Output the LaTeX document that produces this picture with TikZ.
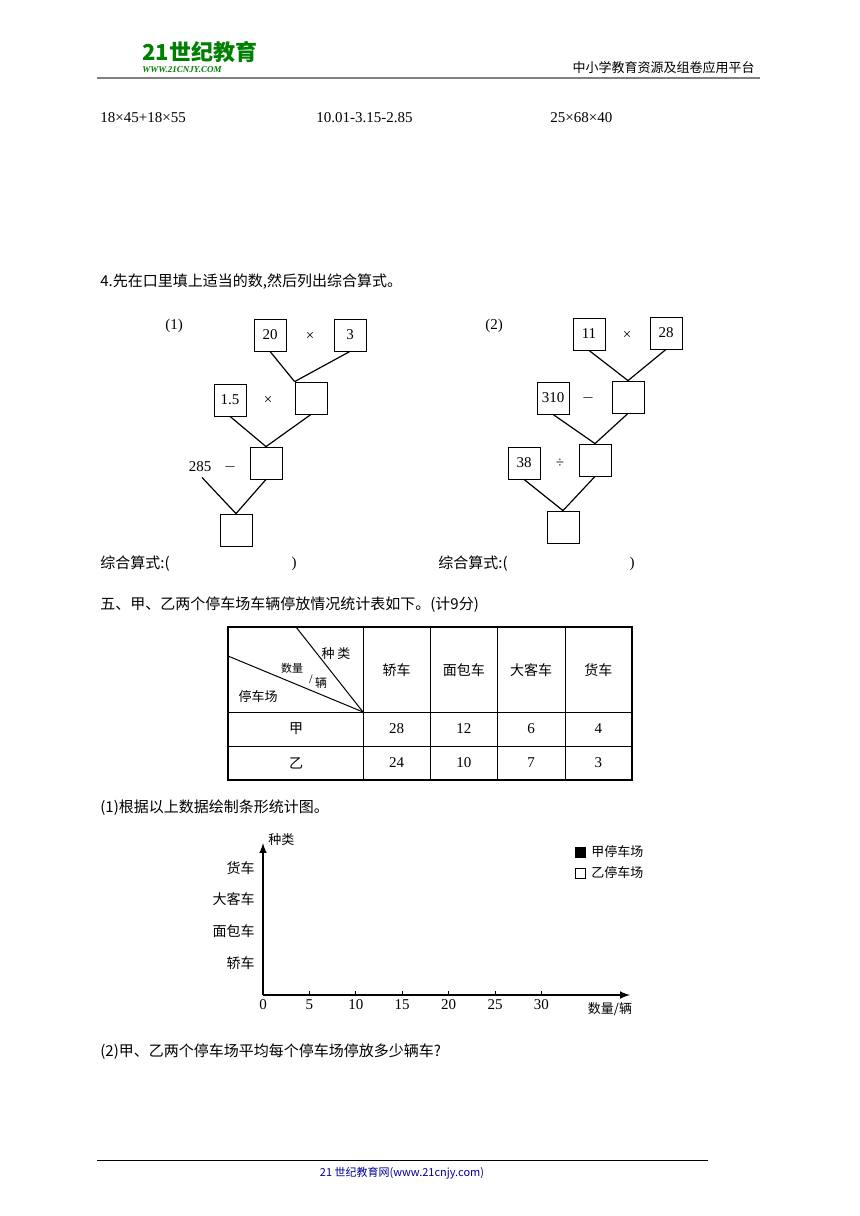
\documentclass[tikz,border=0pt]{standalone}
\usepackage{fontspec}
\setmainfont{Liberation Serif}
\newfontfamily\cjk{Noto Sans CJK SC}
\usetikzlibrary{calc}
\usetikzlibrary{positioning}
\tikzstyle{numbox} = [draw, minimum size=16pt, inner sep=0pt, font=\fontsize{7.5}{8}\selectfont]
\tikzstyle{txt} = [anchor=west, inner sep=0pt, font=\fontsize{7.5}{9}\selectfont]
\tikzstyle{cell} = [inner sep=0pt, font=\fontsize{7.5}{9}\selectfont]
\tikzstyle{treeline} = [line width=0.6pt]
\begin{document}
\begin{tikzpicture}[x=0.5pt, y=-0.5pt]
    \useasboundingbox (0,0) rectangle (860,1216);
    % header
    \node[inner sep=0pt, anchor=west, text=green!50!black, font=\cjk\fontsize{11}{11}\selectfont\bfseries] (logo) at (142,52) {21世纪教育};
    \node[inner sep=0pt, anchor=west, text=green!50!black, font=\fontsize{4.5}{5}\selectfont\bfseries\itshape] (logourl) at (142,70) {WWW.21CNJY.COM};
    \node[inner sep=0pt, anchor=east, font=\cjk\fontsize{6.5}{7}\selectfont] (platform) at (755,68) {中小学教育资源及组卷应用平台};
    \draw[gray, line width=1.2pt] (97,78) -- (760,78);

    \node[txt] (calcA) at (100,118) {18×45+18×55};
    \node[txt] (calcB) at (316,118) {10.01-3.15-2.85};
    \node[txt] (calcC) at (550,118) {25×68×40};
    \node[txt, font=\cjk\fontsize{7.5}{9}\selectfont] (task4) at (100,282) {4.先在口里填上适当的数,然后列出综合算式。};

    % tree (1)
    \node[cell] (t1_label) at (174,326) {(1)};
    \node[numbox] (t1_twenty) at (270,335) {20};
    \node[cell] at (310,336) {×};
    \node[numbox] (t1_three) at (350,335) {3};
    \node[numbox] (t1_onefive) at (230,400) {1.5};
    \node[cell] at (268,400) {×};
    \node[numbox] (t1_prod) at (311,398) {};
    \node[cell] (t1_285) at (200,467) {285};
    \node[cell] at (230,467) {$-$};
    \node[numbox] (t1_mid) at (266,463) {};
    \node[numbox] (t1_res) at (236,530) {};
    \draw[treeline] (t1_twenty.south) -- (t1_prod.north west);
    \draw[treeline] (t1_three.south) -- (t1_prod.north west);
    \draw[treeline] (t1_onefive.south) -- (t1_mid.north);
    \draw[treeline] (t1_prod.south) -- (t1_mid.north);
    \draw[treeline] ($(t1_285.south)+(2,5)$) -- (t1_res.north);
    \draw[treeline] (t1_mid.south) -- (t1_res.north);

    % tree (2)
    \node[cell] (t2_label) at (494,326) {(2)};
    \node[numbox] (t2_eleven) at (589,334) {11};
    \node[cell] at (627,335) {×};
    \node[numbox] (t2_28) at (666,333) {28};
    \node[numbox] (t2_310) at (553,398) {310};
    \node[cell] at (588,398) {$-$};
    \node[numbox] (t2_prod) at (628,397) {};
    \node[numbox] (t2_38) at (524,463) {38};
    \node[cell] at (560,463) {÷};
    \node[numbox] (t2_mid) at (595,460) {};
    \node[numbox] (t2_res) at (563,527) {};
    \draw[treeline] (t2_eleven.south) -- (t2_prod.north);
    \draw[treeline] (t2_28.south) -- (t2_prod.north);
    \draw[treeline] (t2_310.south) -- (t2_mid.north);
    \draw[treeline] (t2_prod.south) -- (t2_mid.north);
    \draw[treeline] (t2_38.south) -- (t2_res.north);
    \draw[treeline] (t2_mid.south) -- (t2_res.north);

    \node[txt, font=\cjk\fontsize{7.5}{9}\selectfont] (formA) at (100,564) {综合算式:(};
    \node[cell] at (294,564) {)};
    \node[txt, font=\cjk\fontsize{7.5}{9}\selectfont] (formB) at (438,564) {综合算式:(};
    \node[cell] at (632,564) {)};

    \node[txt, font=\cjk\fontsize{7.5}{9}\selectfont] (task5) at (100,605) {五、甲、乙两个停车场车辆停放情况统计表如下。(计9分)};

    % table
    \draw[line width=1pt] (228,627) rectangle (632,780);
    \draw[line width=0.5pt] (228,712) -- (632,712);
    \draw[line width=0.5pt] (228,746) -- (632,746);
    \foreach \x in {363,430,497,565}
        \draw[line width=0.5pt] (\x,627) -- (\x,780);
    \draw[line width=0.5pt] (296,627) -- (363,712);
    \draw[line width=0.5pt] (228,656) -- (363,712);
    \node[cell, font=\cjk\fontsize{6.5}{7}\selectfont] at (336,654) {种\ 类};
    \node[cell, font=\cjk\fontsize{5.5}{6}\selectfont] at (292,668) {数量};
    \node[cell, font=\fontsize{6.5}{7}\selectfont] at (311,679) {/};
    \node[cell, font=\cjk\fontsize{6}{6}\selectfont] at (321,683) {辆};
    \node[cell, font=\cjk\fontsize{6.5}{7}\selectfont] at (258,697) {停车场};
    \foreach \name [count=\i] in {轿车,面包车,大客车,货车}
        \node[cell, font=\cjk\fontsize{7}{8}\selectfont] at ({329.2+\i*67.3},670) {\name};
    \node[cell, font=\cjk\fontsize{7}{8}\selectfont] at (296,729) {甲};
    \node[cell, font=\cjk\fontsize{7}{8}\selectfont] at (296,763) {乙};
    \foreach \v [count=\i] in {28,12,6,4}
        \node[cell] at ({329.2+\i*67.3},729) {\v};
    \foreach \v [count=\i] in {24,10,7,3}
        \node[cell] at ({329.2+\i*67.3},763) {\v};

    \node[txt, font=\cjk\fontsize{7.5}{9}\selectfont] (task51) at (100,808) {(1)根据以上数据绘制条形统计图。};

    % bar chart axes
    \coordinate (origin) at (263,995);
    \coordinate (ytop) at (263,843);
    \coordinate (xend) at (630,995);
    \draw[line width=0.7pt, -latex] (origin) -- (ytop);
    \draw[line width=0.7pt, -latex] (origin) -- (xend);
    \node[cell, anchor=west, font=\cjk\fontsize{6.5}{7}\selectfont] (ylabel) at (268,840) {种类};
    \node[cell, font=\cjk\fontsize{6.5}{7}\selectfont] (xlabel) at (610,1009) {数量/辆};
    \foreach \v in {0,5,...,30} {
        \draw (263+\v*46.4/5,995) -- (263+\v*46.4/5,991);
        \node[cell] at (263+\v*46.4/5,1005) {\v};
    }
    \foreach \name/\y in {货车/868,大客车/899,面包车/931,轿车/963}
        \node[cell, anchor=east, font=\cjk\fontsize{7}{8}\selectfont] at (255,\y) {\name};
    \draw[fill=black] (575,847) rectangle (585,857);
    \node[cell, anchor=west, font=\cjk\fontsize{6.5}{7}\selectfont] (legA) at (591,852) {甲停车场};
    \draw (575,868) rectangle (585,878);
    \node[cell, anchor=west, font=\cjk\fontsize{6.5}{7}\selectfont] (legB) at (591,873) {乙停车场};

    \node[txt, font=\cjk\fontsize{7.5}{9}\selectfont] (task52) at (100,1052) {(2)甲、乙两个停车场平均每个停车场停放多少辆车?};

    % footer
    \draw[line width=0.5pt] (97,1160) -- (708,1160);
    \node[cell, text=blue!60!black, font=\cjk\fontsize{5.5}{6}\selectfont] (footer) at (402,1173) {21 世纪教育网(www.21cnjy.com)};
\end{tikzpicture}
\end{document}
